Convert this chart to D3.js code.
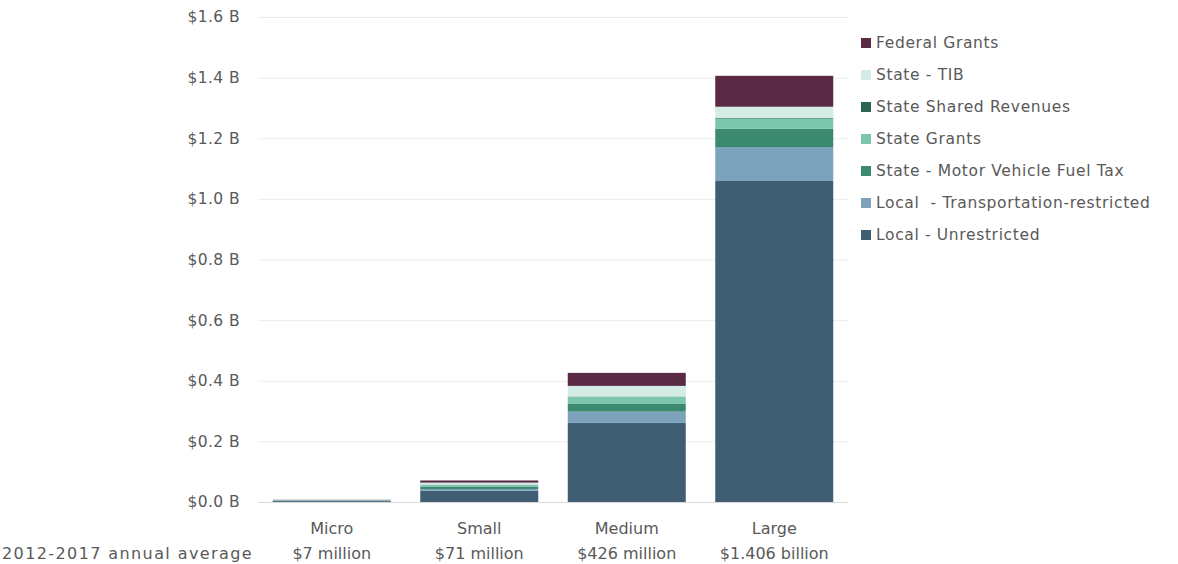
<!DOCTYPE html>
<html>
<head>
<meta charset="utf-8">
<script src="https://cdn.jsdelivr.net/npm/d3@7"></script>
<style>
  body { margin: 0; background: #fff; }
  text { font-family: "DejaVu Sans", sans-serif; fill: #595959; white-space: pre; }
</style>
</head>
<body>
<div id="chart"></div>
<script>
const categories = ['Micro', 'Small', 'Medium', 'Large'];
const categoryTotals = ['$7 million', '$71 million', '$426 million', '$1.406 billion'];
// series listed bottom -> top of the stack, values in $ billions
const seriesNames = [
  'Local - Unrestricted',
  'Local  - Transportation-restricted',
  'State - Motor Vehicle Fuel Tax',
  'State Grants',
  'State Shared Revenues',
  'State - TIB',
  'Federal Grants'
];
const localUnrestricted = [0.003, 0.037, 0.261, 1.059];
const localRestricted   = [0.001, 0.006, 0.037, 0.112];
const motorFuelTax      = [0.001, 0.008, 0.027, 0.060];
const stateGrants       = [0.0005, 0.005, 0.022, 0.034];
const stateShared       = [0.0002, 0.001, 0.001, 0.002];
const stateTIB          = [0.0005, 0.007, 0.035, 0.037];
const federalGrants     = [0.001, 0.007, 0.043, 0.102];
const seriesColors = ['#3f5e74', '#7da3bc', '#3b8a70', '#7cc6ae', '#2c6552', '#d3ece5', '#5a2a45'];
const yTicks = [0, 0.2, 0.4, 0.6, 0.8, 1.0, 1.2, 1.4, 1.6];

const W = 1178, H = 564;
const margin = { top: 17, left: 258, right: 330, bottom: 62 };

const allSeries = [localUnrestricted, localRestricted, motorFuelTax, stateGrants, stateShared, stateTIB, federalGrants];
const rows = categories.map((c, i) => {
  const r = { category: c };
  seriesNames.forEach((s, j) => r[s] = allSeries[j][i]);
  return r;
});
const stacked = d3.stack().keys(seriesNames)(rows);

const svg = d3.select('#chart').append('svg')
  .attr('width', W)
  .attr('height', H);

const x = d3.scaleBand()
  .domain(categories)
  .range([margin.left, W - margin.right])
  .paddingInner(0.2)
  .paddingOuter(0.1);

const y = d3.scaleLinear()
  .domain([0, 1.6])
  .range([H - margin.bottom, margin.top]);

const color = d3.scaleOrdinal().domain(seriesNames).range(seriesColors);

// gridlines + y labels
const yAxis = d3.axisLeft(y)
  .tickValues(yTicks)
  .tickSize(-(W - margin.right - margin.left))
  .tickPadding(18)
  .tickFormat(d => '$' + d3.format('.1f')(d) + ' B');

const gy = svg.append('g')
  .attr('transform', `translate(${margin.left},0)`)
  .call(yAxis);
gy.select('.domain').remove();
gy.selectAll('.tick line').attr('stroke', '#ececec').attr('stroke-width', 1);
gy.selectAll('.tick text')
  .style('font-family', '"DejaVu Sans", sans-serif')
  .style('font-size', '15.5px')
  .style('letter-spacing', '0.4px')
  .style('fill', '#595959');

// bars
svg.append('g').selectAll('g')
  .data(stacked)
  .join('g')
  .attr('fill', d => color(d.key))
  .selectAll('rect')
  .data(d => d)
  .join('rect')
  .attr('x', d => x(d.data.category))
  .attr('width', x.bandwidth())
  .attr('y', d => y(d[1]))
  .attr('height', d => y(d[0]) - y(d[1]));

// baseline
svg.append('line')
  .attr('x1', margin.left).attr('x2', W - margin.right)
  .attr('y1', y(0) + 0.5).attr('y2', y(0) + 0.5)
  .attr('stroke', '#d9d9d9');

// x labels
const xl = svg.append('g');
xl.selectAll('text.cat')
  .data(categories)
  .join('text')
  .attr('class', 'cat')
  .attr('x', d => x(d) + x.bandwidth() / 2)
  .attr('y', 534)
  .attr('text-anchor', 'middle')
  .style('font-size', '16px')
  .text(d => d);
xl.selectAll('text.tot')
  .data(categoryTotals)
  .join('text')
  .attr('class', 'tot')
  .attr('x', (d, i) => x(categories[i]) + x.bandwidth() / 2)
  .attr('y', 559)
  .attr('text-anchor', 'middle')
  .style('font-size', '16px')
  .text(d => d);
svg.append('text')
  .attr('x', 253)
  .attr('y', 559)
  .attr('text-anchor', 'end')
  .style('font-size', '16px')
  .style('letter-spacing', '1.4px')
  .text('2012-2017 annual average');

// legend (top to bottom = reverse stack order)
const legendItems = seriesNames.slice().reverse();
const legend = svg.append('g').attr('transform', 'translate(861,43)');
const li = legend.selectAll('g')
  .data(legendItems)
  .join('g')
  .attr('transform', (d, i) => `translate(0,${i * 32})`);
li.append('rect')
  .attr('x', 0).attr('y', -5)
  .attr('width', 10).attr('height', 10)
  .attr('fill', d => color(d));
li.append('text')
  .attr('x', 15)
  .attr('y', 0)
  .attr('dy', '0.35em')
  .style('font-size', '15.5px')
  .style('letter-spacing', '0.65px')
  .text(d => d);
</script>
</body>
</html>
